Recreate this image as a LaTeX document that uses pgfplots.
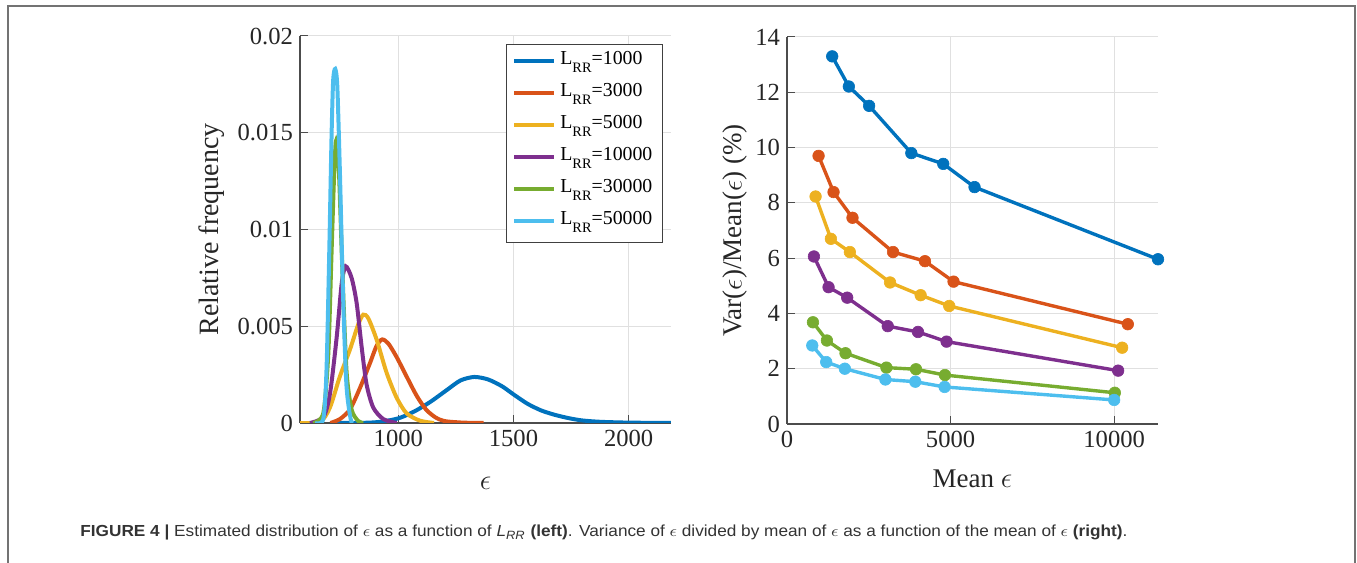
\documentclass[border=0pt]{standalone}
\usepackage{fontspec}
\setmainfont{Liberation Serif}
\newfontfamily\capfont{Liberation Sans}
\usepackage{graphicx}
\usepackage{pgfplots}
\pgfplotsset{compat=1.18}
\definecolor{c1}{rgb}{0,0.447,0.741}
\definecolor{c2}{rgb}{0.85,0.325,0.098}
\definecolor{c3}{rgb}{0.929,0.694,0.125}
\definecolor{c4}{rgb}{0.494,0.184,0.556}
\definecolor{c5}{rgb}{0.466,0.674,0.188}
\definecolor{c6}{rgb}{0.301,0.745,0.933}
\pgfplotsset{matlab/.style={
  scale only axis, width=185.5pt, height=193.5pt,
  axis x line*=bottom, axis y line*=left,
  axis line style={black!70, line width=0.6pt},
  tick align=inside, major tick length=4pt, tick style={black!70, line width=0.5pt},
  grid=major, major grid style={black!12, line width=0.5pt},
  ticklabel style={font=\fontsize{12.3}{14}\selectfont, text=black!85},
  label style={font=\fontsize{13.5}{15}\selectfont, text=black!85},
  scaled ticks=false,
  /pgf/number format/assume math mode=true,
  /pgf/number format/1000 sep={},
}}
\newcommand{\LRR}[1]{L\raisebox{-4pt}{\fontsize{7.2}{7.2}\selectfont RR}=#1}
\begin{document}
\begin{tikzpicture}
\useasboundingbox (0,0) rectangle (678.5pt,281.5pt);
\draw[black!55, line width=1pt] (3.75pt,-5pt) -- (3.75pt,278.25pt) -- (677.6pt,278.25pt) -- (677.6pt,-5pt);
% left axis
\begin{axis}[matlab, at={(150pt,70pt)}, anchor=south west,
  xmin=573, xmax=2184, ymin=0, ymax=0.02,
  xtick={1000,1500,2000},
  ytick={0,0.005,0.01,0.015,0.02},
  yticklabels={0,0.005,0.01,0.015,0.02},
  xlabel={$\epsilon$}, ylabel={Relative frequency},
  xlabel style={at={(axis description cs:0.5,-0.155)}, anchor=center},
  ylabel style={at={(axis description cs:-0.237,0.5)}, anchor=center, font=\fontsize{14}{15}\selectfont},
  legend style={at={(axis description cs:0.555,0.979)}, anchor=north west,
    draw=black!75, line width=0.5pt, fill=white,
    font=\fontsize{9.9}{11}\selectfont, inner xsep=3pt, inner ysep=3pt,
    row sep=3pt, nodes={inner ysep=0pt, text height=7pt, text depth=6pt}},
  legend cell align=left,
  legend image code/.code={\draw[#1, line width=2pt] (0pt,1.5pt) -- (20pt,1.5pt);},
  every axis plot/.append style={line width=2pt, smooth, tension=0.45},
]
\addplot[c1] coordinates {(710,0) (850,0.00001) (920,0.00006) (1000,0.00024) (1070,0.0006) (1140,0.0011) (1210,0.0017) (1270,0.0022) (1330,0.00238) (1390,0.00225) (1450,0.0019) (1500,0.00148) (1560,0.001) (1620,0.00065) (1680,0.00042) (1740,0.00025) (1800,0.00013) (1880,0.00006) (2000,0.00002) (2184,0)};
\addplot[c2] coordinates {(705,0) (746,0.0002) (790,0.0007) (833,0.0018) (877,0.0031) (906,0.0040) (930,0.00432) (957,0.0041) (993,0.0034) (1036,0.0024) (1080,0.0014) (1120,0.0007) (1160,0.0003) (1200,0.0001) (1280,0.00002) (1370,0)};
\addplot[c3] coordinates {(573,0) (660,0.00005) (703,0.0008) (746,0.0024) (790,0.0038) (826,0.0051) (848,0.0056) (870,0.0054) (906,0.0043) (949,0.0026) (993,0.0013) (1036,0.0005) (1094,0.00012) (1155,0)};
\addplot[c4] coordinates {(616,0) (674,0.0003) (703,0.0015) (732,0.0044) (754,0.0072) (771,0.0081) (797,0.0075) (819,0.0062) (841,0.0039) (862,0.002) (891,0.0008) (935,0.0002) (993,0)};
\addplot[c5] coordinates {(630,0) (674,0.0005) (696,0.0036) (710,0.0088) (722,0.0131) (730,0.0146) (742,0.013) (757,0.0079) (775,0.0027) (797,0.0007) (826,0.0001) (848,0)};
\addplot[c6] coordinates {(638,0) (674,0.0002) (688,0.0027) (700,0.0088) (710,0.0148) (717,0.0177) (726,0.0183) (735,0.0174) (746,0.0131) (761,0.0062) (775,0.0019) (793,0.0002) (804,0)};
\legend{\LRR{1000},\LRR{3000},\LRR{5000},\LRR{10000},\LRR{30000},\LRR{50000}}
\end{axis}
% right axis
\begin{axis}[matlab, at={(393.5pt,69.5pt)}, anchor=south west,
  xmin=0, xmax=11340, ymin=0, ymax=14,
  xtick={0,5000,10000}, ytick={0,2,...,14},
  xlabel={Mean $\epsilon$}, ylabel={Var($\epsilon$)/Mean($\epsilon$) (\%)},
  xlabel style={at={(axis description cs:0.5,-0.142)}, anchor=center},
  ylabel style={at={(axis description cs:-0.140,0.5)}, anchor=center},
  clip=false,
  every axis plot/.append style={line width=1.7pt, mark=*, mark size=2.9pt},
]
\addplot[c1, mark options={fill=c1, line width=0.3pt}] coordinates {(1382,13.3) (1890,12.21) (2510,11.51) (3800,9.8) (4776,9.41) (5732,8.57) (11340,5.96)};
\addplot[c2, mark options={fill=c2, line width=0.3pt}] coordinates {(965,9.70) (1423,8.39) (2002,7.46) (3242,6.22) (4217,5.89) (5091,5.15) (10417,3.61)};
\addplot[c3, mark options={fill=c3, line width=0.3pt}] coordinates {(874,8.23) (1341,6.70) (1921,6.22) (3150,5.12) (4085,4.66) (4959,4.27) (10244,2.76)};
\addplot[c4, mark options={fill=c4, line width=0.3pt}] coordinates {(823,6.06) (1270,4.95) (1840,4.57) (3079,3.54) (4004,3.33) (4878,2.98) (10122,1.93)};
\addplot[c5, mark options={fill=c5, line width=0.3pt}] coordinates {(793,3.68) (1220,3.02) (1789,2.56) (3039,2.04) (3943,1.98) (4827,1.77) (10020,1.13)};
\addplot[c6, mark options={fill=c6, line width=0.3pt}] coordinates {(772,2.84) (1199,2.24) (1768,2.0) (3008,1.61) (3922,1.53) (4817,1.34) (10000,0.87)};
\end{axis}
\node[anchor=base west, inner sep=0pt, text=black!80] at (40pt,13pt) {\resizebox{523.5pt}{\height}{\capfont\fontsize{8}{9}\selectfont\textbf{FIGURE 4 |} Estimated distribution of $\epsilon$ as a function of \textit{L}\textsubscript{\textit{RR}} \textbf{(left)}. Variance of $\epsilon$ divided by mean of $\epsilon$ as a function of the mean of $\epsilon$ \textbf{(right)}.}};
\end{tikzpicture}
\end{document}
